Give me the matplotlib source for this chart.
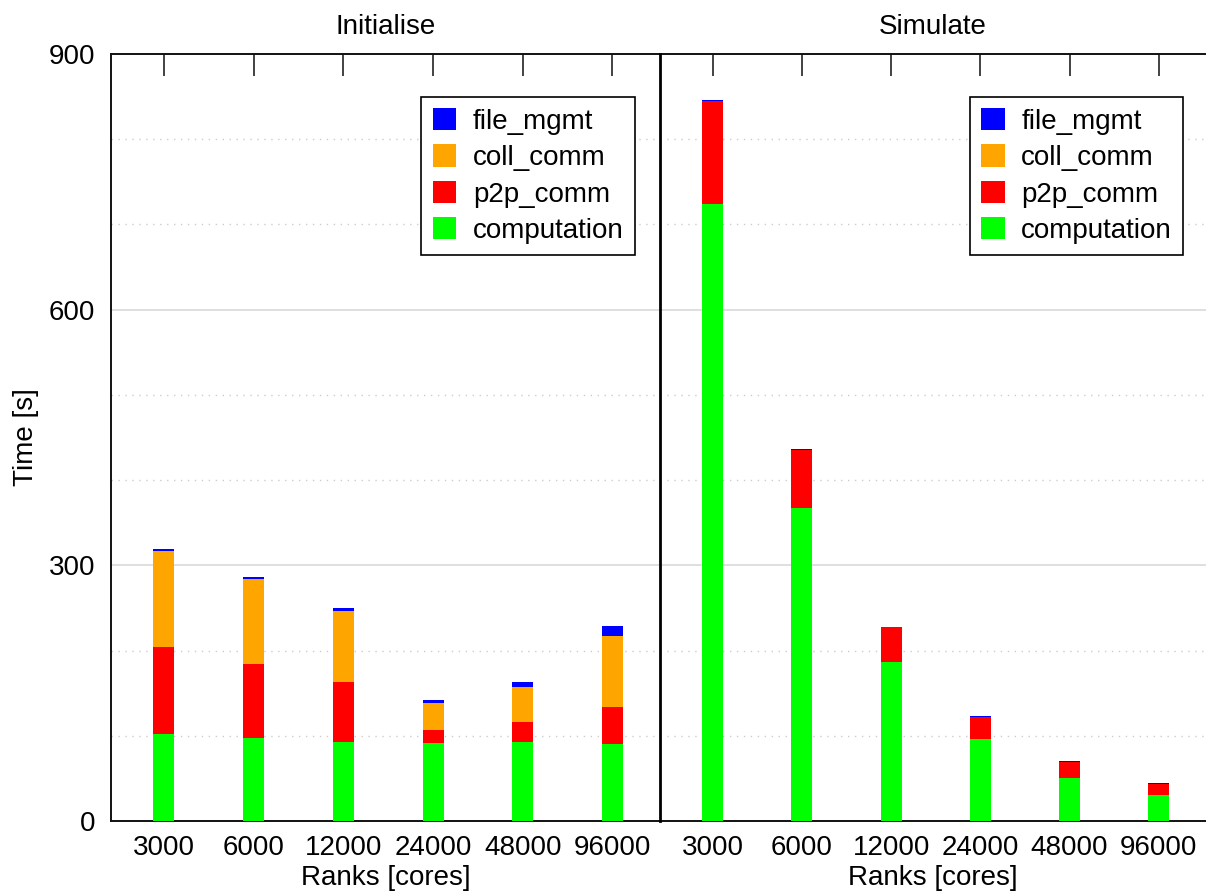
import matplotlib
matplotlib.use("Agg")
import matplotlib.pyplot as plt
import numpy as np

plt.rcParams['font.family'] = ['Liberation Sans', 'DejaVu Sans']

ranks = ["3000", "6000", "12000", "24000", "48000", "96000"]
panels = ["Initialise", "Simulate"]

init_computation = [102.4, 97.7, 93.1, 91.5, 93.1, 90.4]
init_p2p = [101.8, 86.5, 70.0, 15.3, 23.1, 43.4]
init_coll = [112.6, 99.8, 83.3, 31.7, 41.0, 83.3]
init_file = [2.4, 2.3, 3.5, 3.5, 5.9, 11.7]

sim_computation = [724.5, 367.3, 186.7, 96.5, 49.9, 30.8]
sim_p2p = [120.0, 68.4, 40.4, 25.7, 19.6, 12.9]
sim_coll = [0.0, 0.0, 0.0, 0.0, 0.0, 0.0]
sim_file = [1.1, 1.1, 0.5, 0.5, 0.8, 0.8]

series_names = ["computation", "p2p_comm", "coll_comm", "file_mgmt"]
colors = ["#00ff00", "#ff0000", "#ffa500", "#0000ff"]

data = {
    "Initialise": [init_computation, init_p2p, init_coll, init_file],
    "Simulate": [sim_computation, sim_p2p, sim_coll, sim_file],
}

W, H = 1206, 894
fig = plt.figure(figsize=(W / 100, H / 100), dpi=100)
bottom_px, top_px = 821, 54
ax_h = (bottom_px - top_px) / H
ax_b = (H - bottom_px) / H
axL = fig.add_axes([111 / W, ax_b, 549 / W, ax_h])
axR = fig.add_axes([660 / W, ax_b, 546 / W, ax_h])

fs = 20
x = np.arange(len(ranks))
legend_anchor = {"Initialise": (0.954, 0.944), "Simulate": (0.958, 0.944)}
for ax, name in zip([axL, axR], panels):
    base = np.zeros(len(ranks))
    handles = []
    for vals, lab, c in zip(data[name], series_names, colors):
        h = ax.bar(x, vals, 0.235, bottom=base, color=c, label=lab, zorder=3)
        handles.append(h)
        base += np.array(vals)
    ax.set_ylim(0, 900)
    ax.set_xlim(-0.59, 5.53)
    for v in [100, 200, 400, 500, 700, 800]:
        ax.axhline(v, color="#cccccc", lw=1.0, ls=(0, (1, 4)), zorder=1)
    for v in [300, 600]:
        ax.axhline(v, color="#d9d9d9", lw=1.2, zorder=1)
    ax.set_xticks(x)
    ax.set_xticklabels(ranks, fontsize=fs)
    ax.tick_params(axis="x", which="both", bottom=False, top=True, direction="in",
                   length=16, width=1.2, color="#222222", pad=10)
    ax.set_xlabel("Ranks [cores]", fontsize=fs, labelpad=3)
    ax.set_title(name, fontsize=fs, pad=14.5)
    for s in ax.spines.values():
        s.set_linewidth(1.4)
        s.set_color("#111111")
    leg = ax.legend(handles[::-1], series_names[::-1], loc="upper right",
                    bbox_to_anchor=legend_anchor[name],
                    fontsize=fs, frameon=True, fancybox=False, edgecolor="black",
                    framealpha=1, handlelength=0.85, handleheight=0.85,
                    handletextpad=0.6, labelspacing=0.35, borderpad=0.4,
                    borderaxespad=0.0)
    leg.get_frame().set_linewidth(1.2)

axL.set_yticks([0, 300, 600, 900])
axL.set_yticklabels(["0", "300", "600", "900"], fontsize=fs)
axL.tick_params(axis="y", left=False, pad=8)
axL.set_ylabel("Time [s]", fontsize=fs, labelpad=7)
axL.spines["right"].set_visible(False)
axR.set_yticks([])
axR.spines["right"].set_visible(False)
axR.spines["left"].set_visible(True)
axR.spines["left"].set_linewidth(2.0)
axR.spines["left"].set_color("black")
axR.spines["left"].set_zorder(5)

fig.savefig("out.png", dpi=100)
